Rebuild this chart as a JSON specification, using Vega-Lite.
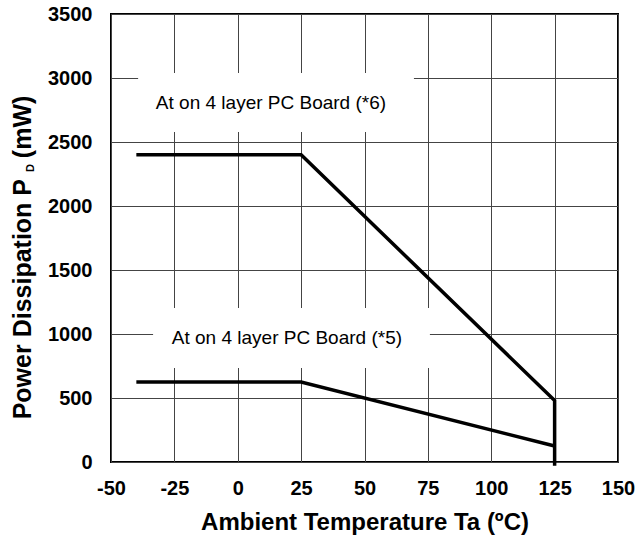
{
  "$schema": "https://vega.github.io/schema/vega-lite/v6.json",
  "width": 507,
  "height": 448,
  "autosize": {"type": "none"},
  "padding": {"left": 111, "top": 14, "right": 18, "bottom": 76},
  "background": "white",
  "config": {
    "view": {"stroke": "black", "strokeWidth": 2},
    "font": "Liberation Sans",
    "axis": {
      "grid": true,
      "gridColor": "#444444",
      "gridWidth": 1,
      "gridOpacity": 1,
      "domain": false,
      "ticks": false,
      "labelFont": "Liberation Sans",
      "labelFontWeight": "bold",
      "labelFontSize": 20,
      "labelColor": "black",
      "titleFont": "Liberation Sans",
      "titleFontWeight": "bold",
      "titleFontSize": 25,
      "titleColor": "black"
    }
  },
  "datasets": {
    "curves": [
      {"series": "*6", "order": 1, "ta": -40, "pd": 2400},
      {"series": "*6", "order": 2, "ta": 25, "pd": 2400},
      {"series": "*6", "order": 3, "ta": 125, "pd": 480},
      {"series": "*6", "order": 4, "ta": 125, "pd": -30},
      {"series": "*5", "order": 1, "ta": -40, "pd": 625},
      {"series": "*5", "order": 2, "ta": 25, "pd": 625},
      {"series": "*5", "order": 3, "ta": 125, "pd": 125}
    ],
    "boxes": [
      {"ta1": -39.3, "ta2": 69.5, "pd1": 2578, "pd2": 3039},
      {"ta1": -33.4, "ta2": 75.8, "pd1": 734, "pd2": 1203}
    ],
    "labels": [
      {"label": "At on 4 layer PC Board (*6)", "ta": 13.1, "pd": 2805},
      {"label": "At on 4 layer PC Board (*5)", "ta": 19.4, "pd": 969}
    ],
    "sub": [
      {"text": "D", "ta": -81.6, "pd": 2297}
    ]
  },
  "layer": [
    {
      "data": {"name": "boxes"},
      "mark": {"type": "rect", "fill": "white", "stroke": null},
      "encoding": {
        "x": {"field": "ta1", "type": "quantitative",
              "scale": {"domain": [-50, 150], "nice": false, "zero": false},
              "axis": {"values": [-50, -25, 0, 25, 50, 75, 100, 125, 150], "labelExpr": "'' + datum.value", "labelPadding": 16, "titlePadding": 12, "titleFontSize": 24, "labelFlush": false, "title": "Ambient Temperature Ta (ºC)"}},
        "x2": {"field": "ta2"},
        "y": {"field": "pd1", "type": "quantitative",
              "scale": {"domain": [0, 3500], "nice": false, "zero": false},
              "axis": {"values": [0, 500, 1000, 1500, 2000, 2500, 3000, 3500], "labelExpr": "'' + datum.value", "labelPadding": 19, "titlePadding": 12, "titleY": 243, "labelFlush": false, "title": "Power Dissipation P\u00a0\u00a0\u00a0(mW)"}},
        "y2": {"field": "pd2"}
      }
    },
    {
      "data": {"name": "labels"},
      "mark": {"type": "text", "fontSize": 19, "font": "Liberation Sans", "color": "black", "align": "center", "baseline": "middle"},
      "encoding": {
        "x": {"field": "ta", "type": "quantitative"},
        "y": {"field": "pd", "type": "quantitative"},
        "text": {"field": "label"}
      }
    },
    {
      "data": {"name": "curves"},
      "mark": {"type": "line", "color": "black", "strokeWidth": 3.5, "strokeJoin": "miter", "clip": false},
      "encoding": {
        "x": {"field": "ta", "type": "quantitative"},
        "y": {"field": "pd", "type": "quantitative"},
        "detail": {"field": "series"},
        "order": {"field": "order"}
      }
    },
    {
      "data": {"name": "sub"},
      "mark": {"type": "text", "fontSize": 11, "fontWeight": "bold", "font": "Liberation Sans", "color": "black", "angle": 270, "align": "center", "baseline": "middle"},
      "encoding": {
        "x": {"field": "ta", "type": "quantitative"},
        "y": {"field": "pd", "type": "quantitative"},
        "text": {"field": "text"}
      }
    }
  ]
}
